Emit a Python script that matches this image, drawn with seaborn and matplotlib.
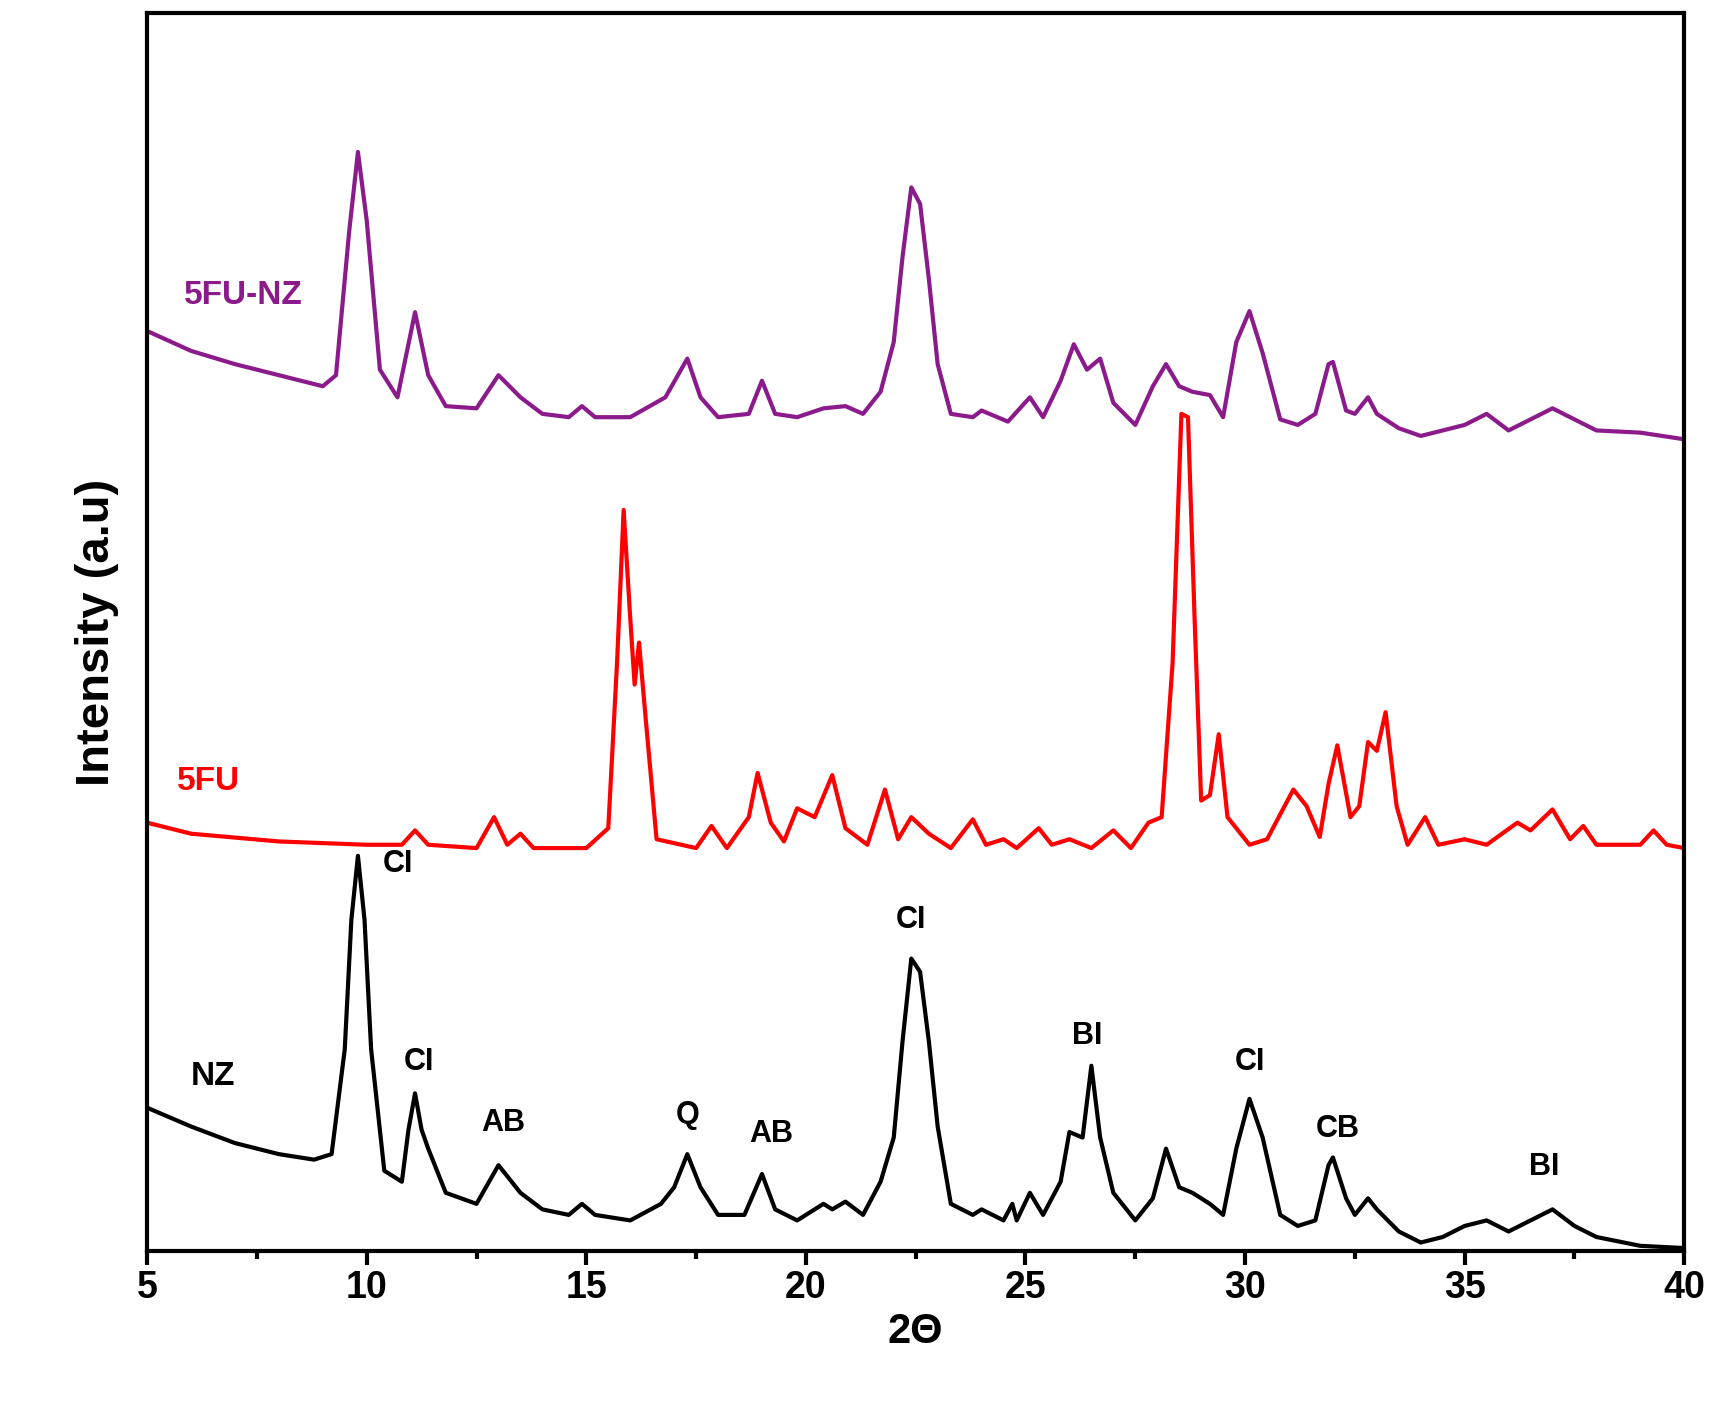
import numpy as np
import pandas as pd
import seaborn as sns
import matplotlib.pyplot as plt
from matplotlib.ticker import MultipleLocator

# values: 2theta and the height of the trace (pixel rows from the axis bottom)
nz_x = [5, 6, 7, 8, 8.8, 9.2, 9.5, 9.65, 9.8, 9.95, 10.1, 10.4, 10.8, 10.95, 11.1, 11.25, 11.4, 11.8, 12.5, 13.0, 13.5, 14, 14.6, 14.9,
        15.2, 16, 16.7, 17.0, 17.3, 17.6, 18, 18.6, 19.0, 19.3, 19.8, 20.4, 20.6, 20.9, 21.3, 21.7, 22.0, 22.2, 22.4,
        22.6, 22.8, 23.0, 23.3, 23.8, 24.0, 24.5, 24.7, 24.8, 25.1, 25.4, 25.8, 26.0, 26.3, 26.5, 26.7, 27.0, 27.5,
        27.9, 28.2, 28.5, 28.8, 29.2, 29.5, 29.8, 30.1, 30.4, 30.8, 31.2, 31.6, 31.9, 32.0, 32.3, 32.5, 32.8,
        33.0, 33.5, 34, 34.5, 35, 35.5, 36, 36.5, 37, 37.5, 38, 39, 40]
nz_y = [130, 113, 98, 88, 83, 88, 183, 300, 358, 300, 183, 73, 63, 110, 143, 110, 93, 53, 43, 78, 53, 38, 33, 43,
        33, 28, 43, 58, 88, 58, 33, 33, 70, 38, 28, 43, 38, 45, 33, 63, 103, 190, 265,
        253, 190, 113, 43, 33, 38, 28, 43, 28, 53, 33, 63, 108, 103, 168, 103, 53, 28,
        48, 93, 58, 53, 43, 33, 93, 138, 103, 33, 23, 28, 78, 85, 48, 33, 48,
        38, 18, 8, 13, 23, 28, 18, 28, 38, 23, 13, 5, 3]

fu_x = [5, 6, 8, 10, 10.8, 11.1, 11.4, 12.5, 12.9, 13.2, 13.5, 13.8, 15, 15.5, 15.7, 15.85, 16.0, 16.1, 16.2,
        16.35, 16.6, 17.5, 17.85, 18.2, 18.7, 18.9, 19.2, 19.5, 19.8, 20.2, 20.6, 20.9, 21.4, 21.8, 22.1, 22.4,
        22.8, 23.3, 23.8, 24.1, 24.5, 24.8, 25.3, 25.6, 26, 26.5, 27, 27.4, 27.8, 28.1, 28.35, 28.55, 28.7,
        28.85, 29.0, 29.2, 29.4, 29.6, 30.1, 30.5, 31.1, 31.4, 31.7, 31.9, 32.1, 32.4, 32.6, 32.8, 33.0, 33.2,
        33.45, 33.7, 34.1, 34.4, 35, 35.5, 36.2, 36.5, 37.0, 37.4, 37.7, 38, 39, 39.3, 39.6, 40]
fu_y = [388, 378, 371, 368, 368, 381, 368, 365, 393, 368, 378, 365, 365, 383, 533, 671, 573, 513, 551,
        483, 373, 365, 385, 365, 393, 433, 388, 371, 401, 393, 431, 383, 368, 418, 373, 393,
        378, 365, 391, 368, 373, 365, 383, 368, 373, 365, 381, 365, 388, 393, 533, 758, 755,
        573, 408, 413, 468, 393, 368, 373, 418, 403, 375, 423, 458, 393, 403, 461, 453, 488,
        403, 368, 393, 368, 373, 368, 388, 381, 400, 373, 385, 368, 368, 381, 368, 365]

mix_x = [5, 6, 7, 8, 9, 9.3, 9.6, 9.8, 10.0, 10.3, 10.7, 11.1, 11.4, 11.8, 12.5, 13.0, 13.5, 14, 14.6, 14.9,
         15.2, 16, 16.8, 17.3, 17.6, 18, 18.7, 19.0, 19.3, 19.8, 20.4, 20.9, 21.3, 21.7, 22.0, 22.2, 22.4, 22.6,
         22.8, 23.0, 23.3, 23.8, 24.0, 24.6, 25.1, 25.4, 25.8, 26.1, 26.4, 26.7, 27.0, 27.5, 27.9, 28.2, 28.5, 28.8,
         29.2, 29.5, 29.8, 30.1, 30.4, 30.8, 31.2, 31.6, 31.9, 32.0, 32.3, 32.5, 32.8, 33.0, 33.5, 34, 35,
         35.5, 36, 37, 37.5, 38, 39, 40]
mix_y = [833, 815, 803, 793, 783, 793, 923, 995, 933, 798, 773, 850, 793, 765, 763, 793, 773, 758, 755, 765,
         755, 755, 773, 808, 773, 755, 758, 788, 758, 755, 763, 765, 758, 778, 823, 900, 963, 948,
         880, 803, 758, 755, 761, 751, 773, 755, 788, 821, 798, 808, 768, 748, 783, 803, 783, 778,
         775, 755, 823, 851, 813, 753, 748, 758, 803, 805, 761, 758, 773, 758, 745, 738, 748,
         758, 743, 763, 753, 743, 741, 735]

df = pd.concat([
    pd.DataFrame({'theta': nz_x, 'I': nz_y, 'sample': 'NZ'}),
    pd.DataFrame({'theta': fu_x, 'I': fu_y, 'sample': '5FU'}),
    pd.DataFrame({'theta': mix_x, 'I': mix_y, 'sample': '5FU-NZ'}),
])

peak_labels = ['CI', 'CI', 'AB', 'Q', 'AB', 'CI', 'BI', 'CI', 'CB', 'BI']
peak_x = [10.7, 11.2, 13.1, 17.3, 19.2, 22.4, 26.4, 30.1, 32.1, 36.8]
peak_y = [351, 171, 116, 123, 106, 300, 195, 171, 111, 76]

sns.set_style('ticks')
plt.rcParams['font.family'] = ['Liberation Sans', 'DejaVu Sans']
plt.rcParams['font.weight'] = 'bold'
plt.rcParams['text.color'] = 'black'
plt.rcParams['axes.labelcolor'] = 'black'
plt.rcParams['xtick.color'] = 'black'

fig = plt.figure(figsize=(17.31, 14.22), dpi=100)
ax = fig.add_axes([0.085, 0.12, 0.888, 0.871])
sns.lineplot(data=df, x='theta', y='I', hue='sample', sort=False, estimator=None,
             palette={'NZ': 'black', '5FU': 'red', '5FU-NZ': '#8B1A8B'},
             linewidth=3, legend=False, ax=ax)

ax.text(6.5, 158, 'NZ', fontsize=24, fontweight='bold', ha='center', va='center')
ax.text(6.4, 425, '5FU', fontsize=24, fontweight='bold', color='red', ha='center', va='center')
ax.text(7.2, 865, '5FU-NZ', fontsize=24, fontweight='bold', color='#8B1A8B', ha='center', va='center')
for lab, x, y in zip(peak_labels, peak_x, peak_y):
    ax.text(x, y, lab, fontsize=22, fontweight='bold', ha='center', va='center')

ax.set_xlim(5, 40)
ax.set_ylim(0, 1121)
ax.set_yticks([])
ax.xaxis.set_major_locator(MultipleLocator(5))
ax.xaxis.set_minor_locator(MultipleLocator(2.5))
ax.tick_params(axis='x', which='major', length=10, width=3, labelsize=27, direction='out', colors='black')
ax.tick_params(axis='x', which='minor', length=6, width=3, direction='out', colors='black')
for lab in ax.get_xticklabels():
    lab.set_fontweight('bold')
for s in ax.spines.values():
    s.set_visible(True)
    s.set_linewidth(3)
    s.set_color('black')
ax.set_xlabel('2\u0398', fontsize=30, fontweight='bold')
ax.set_ylabel('Intensity (a.u)', fontsize=34, fontweight='bold', labelpad=20)

fig.savefig('out.png', dpi=100)
